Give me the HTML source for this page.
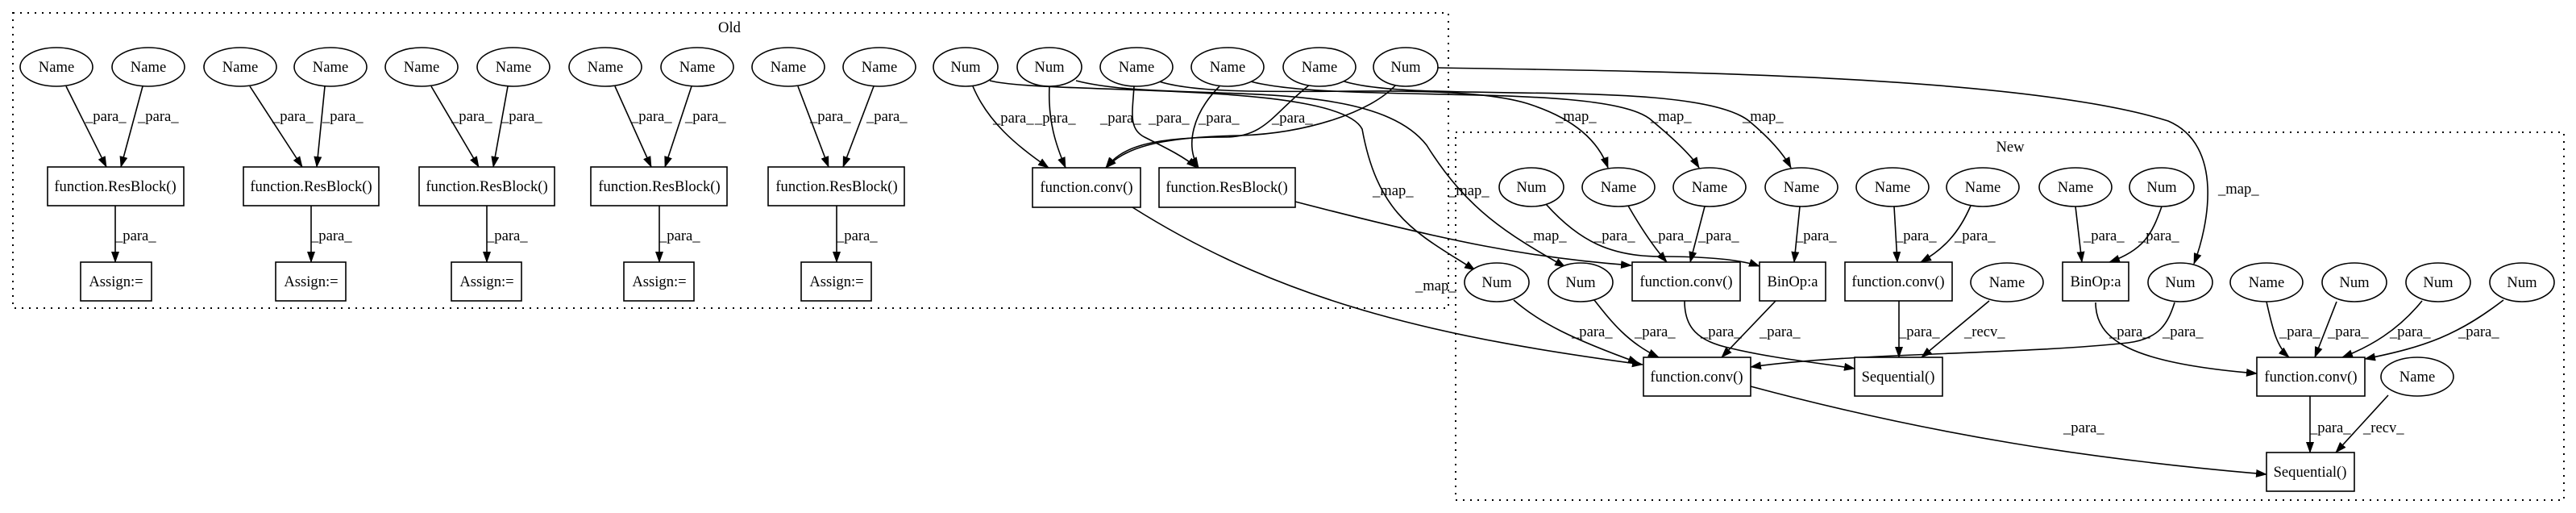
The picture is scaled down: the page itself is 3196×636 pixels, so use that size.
<!DOCTYPE html>
<html><head><meta charset="utf-8"><style>
html,body{margin:0;padding:0;background:#fff;}
svg{display:block;}
text{font-family:"Liberation Serif",serif;font-size:18.6px;fill:#000;}
</style></head><body>
<svg width="3196" height="636" viewBox="0 0 3196 636" xmlns="http://www.w3.org/2000/svg">
<defs>
<marker id="b" markerWidth="14" markerHeight="10" refX="13" refY="5" orient="auto" markerUnits="userSpaceOnUse"><path d="M0,0 L14,5 L0,10 z" fill="#000"/></marker></defs>
<g fill="none" stroke="#000" stroke-width="2" stroke-dasharray="2,7">
<rect x="16" y="16" width="1781" height="366"/>
<rect x="1806" y="164" width="1375" height="456"/>
</g>
<text x="905" y="40" text-anchor="middle">Old</text>
<text x="2494" y="188" text-anchor="middle">New</text>

<g fill="none" stroke="#000" stroke-width="1.6" marker-end="url(#b)">
<path d="M82,107 L132,207"/><path d="M177,107 L150,207"/><path d="M143,255 L143,325"/>
<path d="M310,107 L375,207"/><path d="M403,107 L393,207"/><path d="M386,255 L386,325"/>
<path d="M535,107 L594,207"/><path d="M630,107 L612,207"/><path d="M604,255 L604,325"/>
<path d="M763,107 L808,207"/><path d="M858,107 L825,207"/><path d="M818,255 L818,325"/>
<path d="M990,107 L1028,207"/><path d="M1084,107 L1046,207"/><path d="M1038,255 L1038,325"/>
<path d="M1207,107 C1225,150 1260,180 1301,208"/>
<path d="M1302,107 C1300,150 1310,180 1322,208"/>
<path d="M1407,107 C1405,140 1400,160 1420,170 C1450,185 1470,195 1485,208"/>
<path d="M1513,107 C1480,140 1470,180 1487,208"/>
<path d="M1625,105 C1580,140 1570,170 1520,170 C1420,170 1390,185 1372,208"/>
<path d="M1732,105 C1700,140 1620,165 1540,168 C1430,170 1395,185 1372,208"/>
<path d="M1405,257 C1600,380 1800,420 2038,452"/>
<path d="M1607,250 C1800,300 1900,320 2024,329"/>
<path d="M1228,100 C1300,118 1660,100 1690,160 C1710,270 1760,290 1830,335"/>
<path d="M1335,100 C1450,130 1700,90 1770,180 C1820,260 1870,290 1942,331"/>
<path d="M1435,100 C1520,130 1800,95 1900,130 C1960,150 1985,180 1995,208"/>
<path d="M1548,100 C1650,130 2000,100 2050,150 C2080,175 2100,195 2108,208"/>
<path d="M1665,100 C1750,130 2100,95 2170,150 C2200,175 2215,195 2222,208"/>
<path d="M1784,84 C2000,88 2500,90 2690,150 C2760,180 2740,280 2722,327"/>
<path d="M1918,253 C1960,300 2000,318 2060,318 C2120,318 2160,322 2183,330"/>
<path d="M2020,255 C2040,290 2055,310 2068,325"/>
<path d="M2115,256 L2097,325"/>
<path d="M2233,256 L2226,325"/>
<path d="M2350,256 L2354,325"/>
<path d="M2445,255 C2430,290 2410,310 2383,325"/>
<path d="M2090,373 C2090,400 2100,420 2140,430 C2200,445 2260,450 2301,457"/>
<path d="M2203,373 L2136,443"/>
<path d="M1878,372 C1910,400 1950,420 2033,450"/>
<path d="M1978,372 C2000,400 2020,425 2058,443"/>
<path d="M2698,375 C2690,400 2680,420 2640,425 C2500,440 2300,437 2172,455"/>
<path d="M2468,373 L2384,443"/>
<path d="M2356,373 L2356,443"/>
<path d="M2600,375 C2600,420 2640,450 2800,463"/>
<path d="M2812,374 C2820,410 2825,430 2840,443"/>
<path d="M2899,374 L2872,443"/>
<path d="M3005,373 C2975,410 2940,430 2906,443"/>
<path d="M3106,372 C3050,415 3010,430 2934,445"/>
<path d="M2866,491 L2866,561"/>
<path d="M2963,490 L2898,561"/>
<path d="M2172,479 C2400,540 2600,570 2812,588"/>
<path d="M2575,256 L2583,325"/>
<path d="M2682,256 C2670,290 2660,310 2617,325"/>
</g>

<g>
<text x="106" y="150">_para_</text><text x="171" y="150">_para_</text><text x="143" y="298">_para_</text>
<text x="338" y="150">_para_</text><text x="400" y="150">_para_</text><text x="386" y="298">_para_</text>
<text x="560" y="150">_para_</text><text x="622" y="150">_para_</text><text x="604" y="298">_para_</text>
<text x="783" y="150">_para_</text><text x="850" y="150">_para_</text><text x="818" y="298">_para_</text>
<text x="1005" y="150">_para_</text><text x="1075" y="150">_para_</text><text x="1038" y="298">_para_</text>
<text x="1232" y="152">_para_</text><text x="1284" y="152">_para_</text><text x="1365" y="152">_para_</text><text x="1425" y="152">_para_</text><text x="1487" y="152">_para_</text><text x="1578" y="152">_para_</text>
<text x="1703" y="242">_map_</text><text x="1797" y="242">_map_</text><text x="1756" y="360">_map_</text><text x="1893" y="298">_map_</text>
<text x="1930" y="150">_map_</text><text x="2048" y="150">_map_</text><text x="2162" y="150">_map_</text><text x="2752" y="240">_map_</text>
<text x="1978" y="298">_para_</text><text x="2048" y="298">_para_</text><text x="2107" y="298">_para_</text><text x="2228" y="298">_para_</text>
<text x="2352" y="298">_para_</text><text x="2425" y="298">_para_</text><text x="2585" y="298">_para_</text><text x="2653" y="298">_para_</text>
<text x="1950" y="417">_para_</text><text x="2028" y="417">_para_</text><text x="2110" y="417">_para_</text><text x="2183" y="417">_para_</text>
<text x="2356" y="417">_para_</text><text x="2437" y="417">_recv_</text><text x="2617" y="417">_para_</text><text x="2683" y="417">_para_</text>
<text x="2828" y="417">_para_</text><text x="2888" y="417">_para_</text><text x="2965" y="417">_para_</text><text x="3050" y="417">_para_</text>
<text x="2560" y="536">_para_</text><text x="2866" y="536">_para_</text><text x="2932" y="536">_recv_</text>
</g>

<g fill="#fff" stroke="#000" stroke-width="1.6">
<ellipse cx="70" cy="83" rx="45" ry="24"/><ellipse cx="184" cy="83" rx="45" ry="24"/>
<ellipse cx="298" cy="83" rx="45" ry="24"/><ellipse cx="410" cy="83" rx="45" ry="24"/>
<ellipse cx="523" cy="83" rx="45" ry="24"/><ellipse cx="637" cy="83" rx="45" ry="24"/>
<ellipse cx="751" cy="83" rx="45" ry="24"/><ellipse cx="865" cy="83" rx="45" ry="24"/>
<ellipse cx="978" cy="83" rx="45" ry="24"/><ellipse cx="1091" cy="83" rx="45" ry="24"/>
<ellipse cx="1198" cy="83" rx="40" ry="24"/><ellipse cx="1302" cy="83" rx="40" ry="24"/>
<ellipse cx="1410" cy="83" rx="45" ry="24"/><ellipse cx="1523" cy="83" rx="45" ry="24"/>
<ellipse cx="1637" cy="83" rx="45" ry="24"/><ellipse cx="1744" cy="83" rx="40" ry="24"/>
<rect x="59" y="207" width="169" height="48"/><rect x="302" y="207" width="168" height="48"/>
<rect x="520" y="207" width="168" height="48"/><rect x="733" y="207" width="169" height="48"/>
<rect x="953" y="207" width="169" height="48"/>
<rect x="100" y="325" width="88" height="48"/><rect x="342" y="325" width="87" height="48"/>
<rect x="560" y="325" width="87" height="48"/><rect x="774" y="325" width="87" height="48"/>
<rect x="994" y="325" width="87" height="48"/>
<rect x="1281" y="208" width="134" height="49"/><rect x="1438" y="208" width="169" height="49"/>
<ellipse cx="1900" cy="232" rx="40" ry="24"/><ellipse cx="2008" cy="232" rx="45" ry="24"/>
<ellipse cx="2121" cy="232" rx="45" ry="24"/><ellipse cx="2235" cy="232" rx="45" ry="24"/>
<ellipse cx="2348" cy="232" rx="45" ry="24"/><ellipse cx="2460" cy="232" rx="45" ry="24"/>
<ellipse cx="2575" cy="232" rx="45" ry="24"/><ellipse cx="2682" cy="232" rx="40" ry="24"/>
<ellipse cx="1857" cy="350" rx="40" ry="24"/><ellipse cx="1961" cy="350" rx="40" ry="24"/>
<rect x="2025" y="325" width="134" height="48"/><rect x="2183" y="325" width="82" height="48"/>
<rect x="2289" y="325" width="133" height="48"/><ellipse cx="2490" cy="350" rx="45" ry="24"/>
<rect x="2559" y="325" width="82" height="48"/><ellipse cx="2705" cy="350" rx="40" ry="24"/>
<ellipse cx="2812" cy="350" rx="45" ry="24"/><ellipse cx="2921" cy="350" rx="40" ry="24"/>
<ellipse cx="3025" cy="350" rx="40" ry="24"/><ellipse cx="3129" cy="350" rx="40" ry="24"/>
<rect x="2039" y="443" width="133" height="48"/><rect x="2301" y="443" width="109" height="48"/>
<rect x="2800" y="443" width="134" height="48"/><ellipse cx="2999" cy="467" rx="45" ry="24"/>
<rect x="2812" y="561" width="109" height="48"/>
</g>

<g text-anchor="middle">
<text x="70" y="89">Name</text><text x="184" y="89">Name</text><text x="298" y="89">Name</text><text x="410" y="89">Name</text>
<text x="523" y="89">Name</text><text x="637" y="89">Name</text><text x="751" y="89">Name</text><text x="865" y="89">Name</text>
<text x="978" y="89">Name</text><text x="1091" y="89">Name</text>
<text x="1198" y="89">Num</text><text x="1302" y="89">Num</text><text x="1410" y="89">Name</text><text x="1523" y="89">Name</text><text x="1637" y="89">Name</text><text x="1744" y="89">Num</text>
<text x="143" y="237">function.ResBlock()</text><text x="386" y="237">function.ResBlock()</text><text x="604" y="237">function.ResBlock()</text><text x="818" y="237">function.ResBlock()</text><text x="1038" y="237">function.ResBlock()</text>
<text x="144" y="355">Assign:=</text><text x="386" y="355">Assign:=</text><text x="604" y="355">Assign:=</text><text x="818" y="355">Assign:=</text><text x="1038" y="355">Assign:=</text>
<text x="1348" y="238">function.conv()</text><text x="1522" y="238">function.ResBlock()</text>
<text x="1900" y="238">Num</text><text x="2008" y="238">Name</text><text x="2121" y="238">Name</text><text x="2235" y="238">Name</text>
<text x="2348" y="238">Name</text><text x="2460" y="238">Name</text><text x="2575" y="238">Name</text><text x="2682" y="238">Num</text>
<text x="1857" y="356">Num</text><text x="1961" y="356">Num</text><text x="2092" y="355">function.conv()</text><text x="2224" y="355">BinOp:a</text>
<text x="2355" y="355">function.conv()</text><text x="2490" y="356">Name</text><text x="2600" y="355">BinOp:a</text><text x="2705" y="356">Num</text>
<text x="2812" y="356">Name</text><text x="2921" y="356">Num</text><text x="3025" y="356">Num</text><text x="3129" y="356">Num</text>
<text x="2105" y="473">function.conv()</text><text x="2355" y="473">Sequential()</text><text x="2867" y="473">function.conv()</text><text x="2999" y="473">Name</text>
<text x="2866" y="591">Sequential()</text>
</g>
</svg>
</body></html>
